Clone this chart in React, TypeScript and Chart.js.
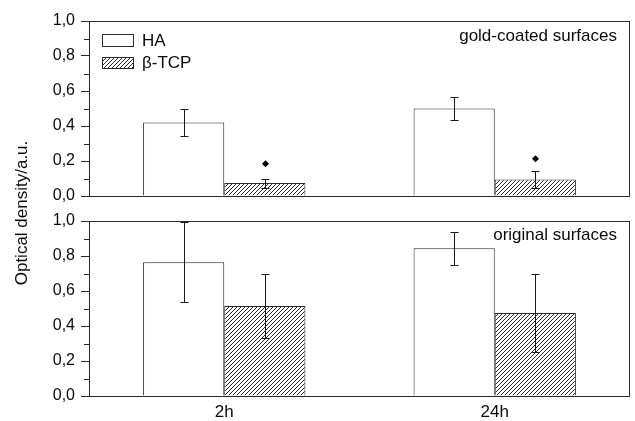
import React, { useEffect, useRef } from 'react';
import { Chart, registerables } from 'chart.js';

Chart.register(...registerables);

const categories = ['2h', '24h'];
const seriesNames = ['HA', 'β-TCP'];
const panelLabels = ['gold-coated surfaces', 'original surfaces'];
const yTitle = 'Optical density/a.u.';

const goldHA = [0.42, 0.5];
const goldHAErr = [0.078, 0.063];
const goldTCP = [0.074, 0.095];
const goldTCPErr = [0.026, 0.048];
const goldMarks = [0.185, 0.213];

const origHA = [0.764, 0.844];
const origHAErr = [0.228, 0.093];
const origTCP = [0.514, 0.474];
const origTCPErr = [0.184, 0.221];

const FONT = '"Liberation Sans", Arial, Helvetica, sans-serif';
const INK = '#2a2a2a';
const TEXT = '#0a0a0a';

const isMajor = (v: number) => Math.round(v * 10) % 2 === 0;
const fmt = (v: number) => v.toFixed(1).replace('.', ',');

function makeHatch(ctx: CanvasRenderingContext2D) {
  const s = 4;
  const c = document.createElement('canvas');
  c.width = s;
  c.height = s;
  const g = c.getContext('2d')!;
  g.fillStyle = '#ffffff';
  g.fillRect(0, 0, s, s);
  g.strokeStyle = '#2a2a2a';
  g.lineWidth = 1;
  g.beginPath();
  g.moveTo(-1, s + 1);
  g.lineTo(s + 1, -1);
  g.moveTo(-1, 1);
  g.lineTo(1, -1);
  g.moveTo(s - 1, s + 1);
  g.lineTo(s + 1, s - 1);
  g.stroke();
  return ctx.createPattern(c, 'repeat') as CanvasPattern;
}

function yAxis(weight: number) {
  return {
    type: 'linear' as const,
    position: 'left' as const,
    stack: 'panels',
    stackWeight: weight,
    min: 0,
    max: 1,
    border: { display: false },
    grid: {
      display: true,
      drawOnChartArea: false,
      drawTicks: true,
      tickLength: 8,
      tickWidth: 1,
      tickColor: (c: any) => (c.tick && isMajor(c.tick.value) ? INK : 'rgba(0,0,0,0)'),
    },
    ticks: {
      stepSize: 0.1,
      autoSkip: false,
      padding: 6,
      color: TEXT,
      font: { family: FONT, size: 16 },
      callback: (v: any) => (isMajor(Number(v)) ? fmt(Number(v)) : ''),
    },
    afterFit: (s: any) => {
      s.width = 89;
    },
  };
}

const overlay = {
  id: 'overlay',
  afterDatasetsDraw(chart: any) {
    const ctx: CanvasRenderingContext2D = chart.ctx;
    const area = chart.chartArea;
    const yT = chart.scales.yTop;
    const yB = chart.scales.yBot;
    ctx.save();
    ctx.strokeStyle = INK;
    ctx.lineWidth = 1;
    const L = Math.round(area.left);
    const R = Math.round(area.right);
    for (const s of [yT, yB]) {
      const t = Math.round(s.top);
      const b = Math.round(s.bottom);
      ctx.strokeRect(L + 0.5, t + 0.5, R - L - 1, b - t);
      // minor ticks
      ctx.beginPath();
      for (let k = 1; k < 10; k += 2) {
        const y = Math.round(s.getPixelForValue(k / 10)) + 0.5;
        ctx.moveTo(L - 5, y);
        ctx.lineTo(L, y);
      }
      ctx.stroke();
    }

    // error bars
    const vals = [goldHA, goldTCP, origHA, origTCP];
    const errs = [goldHAErr, goldTCPErr, origHAErr, origTCPErr];
    const scs = [yT, yT, yB, yB];
    ctx.strokeStyle = '#1a1a1a';
    for (let d = 0; d < 4; d++) {
      const meta = chart.getDatasetMeta(d);
      meta.data.forEach((bar: any, i: number) => {
        const x = Math.round(bar.x) + 0.5;
        const yHi = Math.round(scs[d].getPixelForValue(vals[d][i] + errs[d][i])) + 0.5;
        const yLo = Math.round(scs[d].getPixelForValue(vals[d][i] - errs[d][i])) + 0.5;
        ctx.beginPath();
        ctx.moveTo(x, yHi);
        ctx.lineTo(x, yLo);
        ctx.moveTo(x - 4, yHi);
        ctx.lineTo(x + 4, yHi);
        ctx.moveTo(x - 4, yLo);
        ctx.lineTo(x + 4, yLo);
        ctx.stroke();
      });
    }

    // significance marks
    ctx.fillStyle = '#000';
    const tcpMeta = chart.getDatasetMeta(1);
    tcpMeta.data.forEach((bar: any, i: number) => {
      const x = Math.round(bar.x) + 0.5;
      const y = yT.getPixelForValue(goldMarks[i]);
      ctx.beginPath();
      ctx.moveTo(x, y - 3.5);
      ctx.lineTo(x + 3.5, y);
      ctx.lineTo(x, y + 3.5);
      ctx.lineTo(x - 3.5, y);
      ctx.closePath();
      ctx.fill();
    });

    // legend
    ctx.strokeStyle = INK;
    ctx.fillStyle = '#fff';
    ctx.fillRect(102, 34, 31, 12);
    ctx.strokeRect(102.5, 34.5, 31, 12);
    ctx.fillStyle = chart.$hatch;
    ctx.fillRect(102, 57, 31, 11);
    ctx.strokeRect(102.5, 57.5, 31, 11);
    ctx.fillStyle = TEXT;
    ctx.font = `17px ${FONT}`;
    ctx.textAlign = 'left';
    ctx.textBaseline = 'middle';
    ctx.fillText(seriesNames[0], 142, 41);
    ctx.fillText(seriesNames[1], 142, 63);

    // panel labels
    ctx.textAlign = 'right';
    ctx.fillText(panelLabels[0], 617, 36);
    ctx.fillText(panelLabels[1], 617, 235);

    // y title
    ctx.save();
    ctx.translate(22, 213);
    ctx.rotate(-Math.PI / 2);
    ctx.textAlign = 'center';
    ctx.font = `17px ${FONT}`;
    ctx.fillText(yTitle, 0, 0);
    ctx.restore();

    ctx.restore();
  },
};

export default function App() {
  const ref = useRef<HTMLCanvasElement | null>(null);
  useEffect(() => {
    document.body.style.margin = '0';
    const canvas = ref.current!;
    const ctx = canvas.getContext('2d')!;
    const hatch = makeHatch(ctx);
    const barCommon = {
      borderColor: INK,
      borderWidth: 1,
      categoryPercentage: 0.6,
      barPercentage: 1.0,
    };
    const chart: any = new Chart(ctx, {
      type: 'bar',
      data: {
        labels: categories,
        datasets: [
          { ...barCommon, label: seriesNames[0], data: goldHA, stack: 'HA', yAxisID: 'yTop', backgroundColor: '#ffffff' },
          { ...barCommon, label: seriesNames[1], data: goldTCP, stack: 'TCP', yAxisID: 'yTop', backgroundColor: hatch },
          { ...barCommon, label: seriesNames[0], data: origHA, stack: 'HA', yAxisID: 'yBot', backgroundColor: '#ffffff' },
          { ...barCommon, label: seriesNames[1], data: origTCP, stack: 'TCP', yAxisID: 'yBot', backgroundColor: hatch },
        ],
      },
      options: {
        responsive: false,
        animation: false,
        devicePixelRatio: 1,
        layout: { padding: { left: 0, top: 21, right: 5, bottom: 0 } },
        plugins: { legend: { display: false }, tooltip: { enabled: false } },
        scales: {
          x: {
            stacked: true,
            border: { display: false },
            grid: { display: false, drawTicks: false },
            ticks: { padding: 6, color: TEXT, font: { family: FONT, size: 17 } },
            afterFit: (s: any) => {
              s.height = 25;
            },
          },
          yBot: yAxis(7),
          yGap: { type: 'linear', position: 'left', stack: 'panels', stackWeight: 1, display: false },
          yTop: yAxis(7),
        } as any,
      },
      plugins: [overlay],
    });
    chart.$hatch = hatch;
    chart.draw();
    return () => chart.destroy();
  }, []);
  return (
    <div style={{ width: 635, height: 421 }}>
      <canvas ref={ref} width={635} height={421} style={{ display: 'block' }} />
    </div>
  );
}
